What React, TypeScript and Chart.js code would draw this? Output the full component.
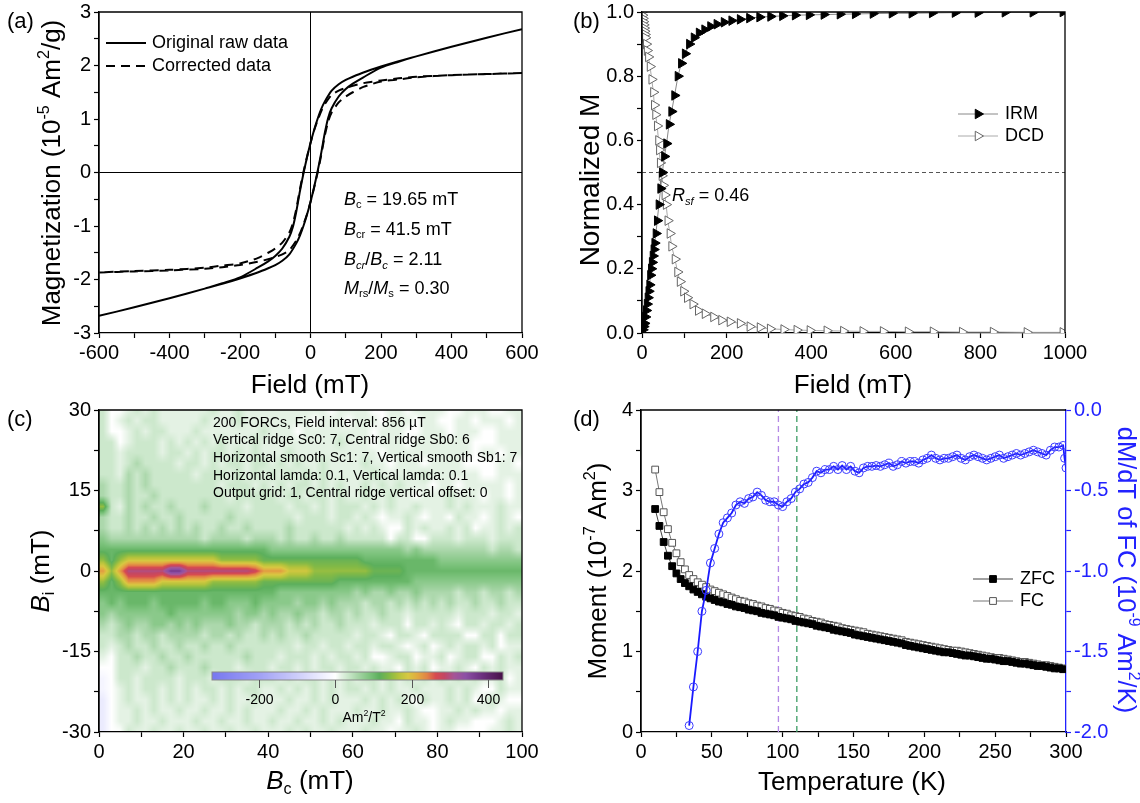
import React, { useEffect, useRef } from 'react';
import { Chart, registerables } from 'chart.js';
Chart.register(...registerables);

const FONT = "Arial, 'Liberation Sans', Helvetica, sans-serif";
Chart.defaults.font.family = FONT;

// ---------------- (a) hysteresis loop ----------------
const RAW_UP_H = [600, 500, 400, 300, 250, 200, 150, 120, 100, 80, 60, 40, 30, 20, 10, 0, -10, -20, -30, -40, -50, -60, -80, -100, -120, -150, -200, -250, -300, -400, -500, -600];
const RAW_UP_M = [2.68, 2.52, 2.35, 2.17, 2.08, 1.98, 1.87, 1.79, 1.73, 1.65, 1.53, 1.32, 1.18, 1.0, 0.79, 0.55, 0.28, -0.02, -0.35, -0.72, -1.02, -1.2, -1.42, -1.56, -1.66, -1.78, -1.96, -2.07, -2.17, -2.35, -2.52, -2.68];
const RAW_LO_H = [-600, -500, -400, -300, -250, -200, -150, -120, -100, -80, -60, -40, -30, -20, -10, 0, 10, 20, 30, 40, 50, 60, 80, 100, 120, 150, 200, 250, 300, 400, 500, 600];
const RAW_LO_M = [-2.68, -2.52, -2.35, -2.17, -2.08, -1.98, -1.87, -1.79, -1.73, -1.65, -1.53, -1.32, -1.18, -1.0, -0.79, -0.55, -0.28, 0.02, 0.35, 0.72, 1.02, 1.2, 1.42, 1.56, 1.66, 1.78, 1.96, 2.07, 2.17, 2.35, 2.52, 2.68];
const COR_UP_M = [1.86, 1.84, 1.82, 1.79, 1.76, 1.72, 1.67, 1.62, 1.58, 1.53, 1.45, 1.27, 1.14, 0.97, 0.78, 0.55, 0.29, 0.01, -0.31, -0.67, -0.95, -1.12, -1.31, -1.42, -1.5, -1.6, -1.7, -1.74, -1.78, -1.82, -1.84, -1.87];
const COR_LO_M = [-1.87, -1.85, -1.83, -1.8, -1.77, -1.73, -1.67, -1.62, -1.58, -1.53, -1.45, -1.27, -1.14, -0.97, -0.78, -0.55, -0.29, -0.01, 0.31, 0.67, 0.95, 1.12, 1.31, 1.42, 1.5, 1.6, 1.7, 1.74, 1.78, 1.82, 1.84, 1.86];

// ---------------- (b) IRM / DCD ----------------
const IRM_H = [2, 4, 6, 8, 10, 12, 14, 16, 18, 20, 22, 24, 26, 28, 30, 33, 36, 40, 44, 48, 53, 58, 64, 70, 77, 85, 93, 102, 112, 123, 135, 148, 162, 177, 194, 212, 232, 254, 278, 304, 332, 362, 395, 430, 468, 504, 546, 591, 638, 686, 740, 794, 858, 924, 995];
const IRM_M = [0.01, 0.02, 0.03, 0.05, 0.07, 0.09, 0.11, 0.13, 0.15, 0.18, 0.2, 0.22, 0.24, 0.26, 0.28, 0.31, 0.35, 0.4, 0.45, 0.5, 0.55, 0.59, 0.65, 0.69, 0.74, 0.8, 0.84, 0.87, 0.9, 0.92, 0.935, 0.945, 0.955, 0.962, 0.968, 0.973, 0.977, 0.981, 0.984, 0.986, 0.988, 0.99, 0.991, 0.992, 0.993, 0.994, 0.995, 0.996, 0.996, 0.997, 0.998, 0.998, 0.999, 0.999, 1.0];
const DCD_H = [0, 1, 2, 3, 4, 5, 6, 7, 8, 10, 12, 15, 19, 23, 27, 29, 32, 36, 39, 41, 43, 47, 50, 54, 57, 61, 66, 70, 78, 84, 90, 98, 107, 120, 133, 149, 169, 188, 208, 232, 255, 279, 303, 335, 366, 397, 437, 476, 522, 570, 629, 688, 757, 830, 910, 995];
const DCD_M = [1.0, 0.99, 0.98, 0.97, 0.96, 0.95, 0.94, 0.93, 0.92, 0.9, 0.88, 0.86, 0.83, 0.79, 0.75, 0.71, 0.68, 0.645, 0.6, 0.57, 0.53, 0.49, 0.46, 0.43, 0.4, 0.35, 0.31, 0.27, 0.23, 0.19, 0.16, 0.13, 0.11, 0.09, 0.07, 0.06, 0.05, 0.04, 0.035, 0.03, 0.02, 0.017, 0.013, 0.011, 0.009, 0.008, 0.007, 0.006, 0.005, 0.005, 0.004, 0.004, 0.003, 0.003, 0.002, 0.002];
const HALF_LEVEL = 0.5;

// ---------------- (c) FORC diagram ----------------
const FORC_BC_MIN = 0;
const FORC_BC_STEP = 2;
const FORC_BI_TOP = 30;
const FORC_BI_STEP = 2;
const FORC_COLS = 50;
// one character per 2 mT x 2 mT cell (cell centres), rows from Bi = 30 (top) down to Bi = -30
const FORC_LEVELS: Record<string, number> = { ' ': 0, c: -20, b: -40, '.': 15, ',': 32, ':': 55, g: 80, G: 105, h: 125, y: 150, Y: 185, o: 225, r: 275, R: 300, p: 370 };
const FORC_ROWS = [
  ",  .,.,...|...,..,...|....... ..|..  .. ...|.  ...  ..",
  ", .,.,,...|..,...,...|..... ... |... ... ..|  .. ... .",
  ",  .,.,,..|.,.......,|... ......|.. ...  ..|. ...  ...",
  ",, .,,,.,.|,.,.,...,.|........,.|.. ... ...|....   ...",
  ",,.,,,,.,,|.,.,,.,.,.|..,.......|... ......|.... .. ..",
  ",,.,:,,,,.|,,.,.,,.,,|.,.,..,...|.,.. ... .|...    .. ",
  ",,.:,:,,,,|,.,,,.,.,.|,.,.,.,...|..,.....,.|.....  ...",
  ":,,:,:,,,,|,,,,.,,,.,|.,.,,.,.,.|.,.,.,... |.. ..... .",
  ":,,:,,:,,,|,,,,,.,,,,|,.,,.,,.,.|.,..,.. ..|.,... .. .",
  "y,.:,:,,:,|,,:,,,,.,,|,,.,,.,.,,|,.,.,..,..|.,.,...,..",
  ":,,:,,:,,:|,,,,,:,,,,|,,,.,,,.,,|.,. ..,. .|. ,.. .,. ",
  ":,,:,:,:,:|,:,,:,,:,,|,,:,,,,,,.|,.,.  ,.,.|.,., ..,.,",
  "g:::::::::|::,::::,::|:,:,,:,,:,|,,,, ,,  ,|,,.,,,.,,,",
  "GGGGGGGGGG|GGGGGGGGGG|gggggggggg|gggggg:g::|::::::,::,",
  "yGyYYYYYYY|YYYYyyyyyh|hhhhhhhhhh|hGGGGGGGGG|gggggggggg",
  "oyoRRRRRpp|RRRRRRRRro|ooYYYyyyyy|yyhhhhGGGG|GGGGGGGGGG",
  "yGyooooYYY|YYYyyyyyyh|hhhhhhhhGG|GGGGGGGggg|gggggggggg",
  "GGGGGGGGGG|GGGGGGGGGG|Gggggggggg|:g::g::g::|::,::,::,:",
  "gGgGGGgGGG|GGgGGgggGg|ggg:gg:g::|:,::,:,:,:|,:,,:,,:,,",
  "g:ggggggGg|gggggg:gg:|g::g::,::,|:,,:,,.,,,|,,.,,,.,,.",
  ":,:g::gg:g|:g:::g::,:|::,:,:,,:,|,,.,,, ,,.|,. ,,.,,.,",
  ",,::,::,::|::,::,:,,:|,:,,:,,,,,|.,,. ,,. ,|,,,  ,, ,,",
  ",.,:,,:,,:|,,:,,:,,,,|,,,.,,.,,.|,,.,,. ., |.,.,,., ..",
  ". ,,:,,:,,|:,,,,,,:,,|,.,,,.,.,,|.,  .,, ..|, .,,  ,.,",
  "  ,,,.,,:,|,,:,,,.,,,|.,,.,.,,.,|,.,.. ,., |..,. ,.,..",
  "c ,,.,,,,.|,,,.,,,.,,|,.,.,,.,.,|.,,.,.,.,.|,.,.,.., .",
  "c .,.,,.,.|,.,,.,.,,.|.,.,.,.,.,|,.,.,..,..|.,.,.  ,..",
  "b .,..,.,.|,..,.,..,.|..,..,.,..|.,.,.,. ,.|.,., .,.  ",
  "b ..,.,..,|..,..,.,..|.,..,.,...|,..,..,.  |..,.,.. ..",
  "b ..,..,..|.,..,..,..|,..,..,.,.|..,.. ,.. |.,..   .,.",
  "b  ,..,..,|..,..,..,.|..,.,..,..|.,.. ..,. |..    ..,.",
];
const FORC_INFO = [
  '200 FORCs, Field interval: 856 \u00b5T',
  'Vertical ridge Sc0: 7, Central ridge Sb0: 6',
  'Horizontal smooth Sc1: 7, Vertical smooth Sb1: 7',
  'Horizontal lamda: 0.1, Vertical lamda: 0.1',
  'Output grid: 1, Central ridge vertical offset: 0',
];
const CB_MIN = -322;
const CB_MAX = 438;
const CB_TICKS = [-200, 0, 200, 400];
const CMAP_V = [-320, -200, -100, -20, 0, 15, 35, 60, 90, 115, 140, 165, 190, 215, 240, 262, 285, 310, 340, 380, 440];
const CMAP_C = [[120, 120, 240], [160, 160, 245], [205, 205, 250], [245, 245, 255], [255, 255, 255], [228, 242, 228], [200, 230, 200], [165, 212, 165], [125, 195, 125], [92, 175, 92], [130, 185, 70], [180, 195, 60], [215, 200, 65], [225, 170, 65], [225, 130, 70], [215, 75, 80], [195, 70, 100], [165, 85, 150], [140, 80, 165], [110, 50, 130], [70, 15, 70]];

// ---------------- (d) ZFC / FC ----------------
const TEMP = [10, 13, 16, 19, 22, 25, 28, 31, 34, 37, 40, 43, 46, 49, 52, 55, 58, 61, 64, 67, 70, 73, 76, 79, 82, 85, 88, 91, 94, 97, 100, 103, 106, 109, 112, 115, 118, 121, 124, 127, 130, 133, 136, 139, 142, 145, 148, 151, 154, 157, 160, 163, 166, 169, 172, 175, 178, 181, 184, 187, 190, 193, 196, 199, 202, 205, 208, 211, 214, 217, 220, 223, 226, 229, 232, 235, 238, 241, 244, 247, 250, 253, 256, 259, 262, 265, 268, 271, 274, 277, 280, 283, 286, 289, 292, 295, 298];
const ZFC = [2.77, 2.56, 2.36, 2.19, 2.06, 1.97, 1.90, 1.85, 1.81, 1.77, 1.74, 1.71, 1.68, 1.66, 1.64, 1.62, 1.61, 1.59, 1.58, 1.56, 1.55, 1.54, 1.52, 1.51, 1.50, 1.48, 1.47, 1.46, 1.45, 1.43, 1.42, 1.41, 1.40, 1.38, 1.37, 1.36, 1.35, 1.34, 1.32, 1.31, 1.30, 1.29, 1.27, 1.26, 1.25, 1.24, 1.23, 1.21, 1.20, 1.19, 1.18, 1.17, 1.16, 1.15, 1.14, 1.13, 1.12, 1.11, 1.10, 1.08, 1.07, 1.06, 1.05, 1.04, 1.03, 1.02, 1.01, 1.00, 0.99, 0.99, 0.98, 0.97, 0.96, 0.95, 0.95, 0.94, 0.93, 0.92, 0.91, 0.91, 0.90, 0.89, 0.88, 0.88, 0.87, 0.86, 0.85, 0.85, 0.84, 0.83, 0.82, 0.82, 0.81, 0.80, 0.79, 0.79, 0.78];
const FC = [3.26, 2.98, 2.73, 2.52, 2.35, 2.22, 2.11, 2.02, 1.95, 1.90, 1.86, 1.83, 1.80, 1.77, 1.75, 1.73, 1.71, 1.69, 1.67, 1.65, 1.63, 1.62, 1.60, 1.59, 1.57, 1.56, 1.54, 1.53, 1.51, 1.50, 1.48, 1.47, 1.45, 1.44, 1.43, 1.41, 1.40, 1.38, 1.37, 1.36, 1.34, 1.33, 1.32, 1.31, 1.29, 1.28, 1.27, 1.26, 1.25, 1.24, 1.22, 1.21, 1.20, 1.19, 1.18, 1.17, 1.16, 1.15, 1.14, 1.12, 1.11, 1.10, 1.09, 1.08, 1.07, 1.06, 1.05, 1.04, 1.03, 1.02, 1.01, 1.01, 1.00, 0.99, 0.98, 0.97, 0.96, 0.95, 0.94, 0.93, 0.92, 0.92, 0.91, 0.90, 0.89, 0.88, 0.87, 0.87, 0.86, 0.85, 0.84, 0.83, 0.83, 0.82, 0.81, 0.80, 0.79];
const DMDT_T = [34, 37, 40, 43, 46, 49, 52, 55, 58, 61, 64, 67, 70, 73, 76, 79, 82, 85, 88, 91, 94, 97, 100, 103, 106, 109, 112, 115, 118, 121, 124, 127, 130, 133, 136, 139, 142, 145, 148, 151, 154, 157, 160, 163, 166, 169, 172, 175, 178, 181, 184, 187, 190, 193, 196, 199, 202, 205, 208, 211, 214, 217, 220, 223, 226, 229, 232, 235, 238, 241, 244, 247, 250, 253, 256, 259, 262, 265, 268, 271, 274, 277, 280, 283, 286, 289, 292, 295, 298, 299, 300];
const DMDT = [-1.96, -1.72, -1.5, -1.25, -1.12, -0.95, -0.86, -0.77, -0.70, -0.67, -0.64, -0.59, -0.57, -0.58, -0.55, -0.54, -0.51, -0.53, -0.56, -0.57, -0.57, -0.59, -0.6, -0.57, -0.55, -0.51, -0.49, -0.46, -0.45, -0.42, -0.38, -0.39, -0.37, -0.37, -0.35, -0.37, -0.345, -0.37, -0.35, -0.38, -0.39, -0.36, -0.35, -0.35, -0.345, -0.35, -0.34, -0.33, -0.35, -0.34, -0.32, -0.33, -0.32, -0.32, -0.33, -0.31, -0.3, -0.28, -0.3, -0.31, -0.3, -0.3, -0.29, -0.28, -0.3, -0.31, -0.29, -0.28, -0.29, -0.3, -0.31, -0.3, -0.29, -0.28, -0.3, -0.29, -0.28, -0.27, -0.28, -0.27, -0.26, -0.25, -0.26, -0.27, -0.28, -0.25, -0.23, -0.23, -0.22, -0.3, -0.36];
const VLINE_T = [97, 110];

// ---------------- helpers ----------------
const pts = (xs: number[], ys: number[]) => xs.map((x, i) => ({ x, y: ys[i] }));

type Seg = { t: string; i?: boolean; sub?: boolean; sup?: boolean };
type RText = { segs: Seg[]; x: number; y: number; size: number; color?: string; align?: string; rot?: number };

function drawRich(ctx: CanvasRenderingContext2D, r: RText) {
  ctx.save();
  ctx.translate(r.x, r.y);
  if (r.rot) ctx.rotate((r.rot * Math.PI) / 180);
  ctx.fillStyle = r.color || '#000';
  ctx.textBaseline = 'middle';
  ctx.textAlign = 'left';
  const small = Math.round(r.size * 0.62 * 10) / 10;
  const fonts = r.segs.map((s) => `${s.i ? 'italic ' : ''}${s.sub || s.sup ? small : r.size}px ${FONT}`);
  const widths = r.segs.map((s, k) => {
    ctx.font = fonts[k];
    return ctx.measureText(s.t).width;
  });
  const total = widths.reduce((p, q) => p + q, 0);
  let x = r.align === 'center' ? -total / 2 : r.align === 'right' ? -total : 0;
  r.segs.forEach((s, k) => {
    ctx.font = fonts[k];
    const dy = s.sub ? r.size * 0.3 : s.sup ? -r.size * 0.32 : 0;
    ctx.fillText(s.t, x, dy);
    x += widths[k];
  });
  ctx.restore();
}

function cmapRGB(v: number): number[] {
  if (v <= CMAP_V[0]) return CMAP_C[0];
  for (let k = 1; k < CMAP_V.length; k++) {
    if (v <= CMAP_V[k]) {
      const f = (v - CMAP_V[k - 1]) / (CMAP_V[k] - CMAP_V[k - 1]);
      const a = CMAP_C[k - 1], b = CMAP_C[k];
      return [0, 1, 2].map((j) => Math.round(a[j] + (b[j] - a[j]) * f));
    }
  }
  return CMAP_C[CMAP_C.length - 1];
}

function forcGrid(): number[][] {
  return FORC_ROWS.map((r) => {
    const s = r.replace(/\|/g, '').padEnd(FORC_COLS, '.').slice(0, FORC_COLS);
    return Array.from(s).map((ch) => (FORC_LEVELS[ch] === undefined ? 15 : FORC_LEVELS[ch]));
  });
}

// FORC cells are rendered as a smooth (bilinear) surface, positioned with the chart's scales
function drawHeatmap(chart: any) {
  const ctx = chart.ctx, a = chart.chartArea, xs = chart.scales.x, ys = chart.scales.y;
  const grid = forcGrid();
  const nR = grid.length;
  const W = Math.ceil(a.right - a.left), H = Math.ceil(a.bottom - a.top);
  const off = document.createElement('canvas');
  off.width = W; off.height = H;
  const g = off.getContext('2d')!;
  const img = g.createImageData(W, H);
  const clamp = (v: number, lo: number, hi: number) => Math.max(lo, Math.min(hi, v));
  for (let py = 0; py < H; py++) {
    const bi = ys.getValueForPixel(a.top + py + 0.5);
    const fr = clamp((FORC_BI_TOP - bi) / FORC_BI_STEP, 0, nR - 1);
    const r0 = Math.floor(fr), r1 = Math.min(r0 + 1, nR - 1), tr = fr - r0;
    for (let px = 0; px < W; px++) {
      const bc = xs.getValueForPixel(a.left + px + 0.5);
      const fc = clamp((bc - FORC_BC_MIN) / FORC_BC_STEP - 0.5, 0, FORC_COLS - 1);
      const c0 = Math.floor(fc), c1 = Math.min(c0 + 1, FORC_COLS - 1), tc = fc - c0;
      const top = grid[r0][c0] * (1 - tc) + grid[r0][c1] * tc;
      const bot = grid[r1][c0] * (1 - tc) + grid[r1][c1] * tc;
      const col = cmapRGB(top * (1 - tr) + bot * tr);
      const o = (py * W + px) * 4;
      img.data[o] = col[0]; img.data[o + 1] = col[1]; img.data[o + 2] = col[2]; img.data[o + 3] = 255;
    }
  }
  g.putImageData(img, 0, 0);
  ctx.save();
  ctx.beginPath();
  ctx.rect(a.left, a.top, a.right - a.left, a.bottom - a.top);
  ctx.clip();
  ctx.drawImage(off, a.left, a.top);
  ctx.restore();
}

function drawColorbar(ctx: CanvasRenderingContext2D, cb: any) {
  const { x0, x1, y0, y1 } = cb;
  ctx.save();
  for (let px = Math.floor(x0); px < x1; px++) {
    const v = CB_MIN + ((px + 0.5 - x0) / (x1 - x0)) * (CB_MAX - CB_MIN);
    const c = cmapRGB(v);
    ctx.fillStyle = `rgb(${c[0]},${c[1]},${c[2]})`;
    ctx.fillRect(px, y0, 1, y1 - y0);
  }
  ctx.strokeStyle = '#8a8a8a';
  ctx.lineWidth = 1;
  ctx.strokeRect(x0, y0, x1 - x0, y1 - y0);
  ctx.strokeStyle = '#555';
  CB_TICKS.forEach((t) => {
    const px = Math.round(x0 + ((t - CB_MIN) / (CB_MAX - CB_MIN)) * (x1 - x0)) + 0.5;
    ctx.beginPath(); ctx.moveTo(px, y1); ctx.lineTo(px, y1 + cb.tickLen); ctx.stroke();
    drawRich(ctx, { segs: [{ t: String(t) }], x: px, y: cb.labelY, size: cb.size, align: 'center' });
  });
  ctx.restore();
  drawRich(ctx, { segs: [{ t: 'Am' }, { t: '2', sup: true }, { t: '/T' }, { t: '2', sup: true }], x: cb.unitX, y: cb.unitY, size: cb.size, align: 'center' });
}

function drawMarker(ctx: CanvasRenderingContext2D, kind: string, x: number, y: number, r: number, fill: string, stroke: string) {
  ctx.save();
  ctx.fillStyle = fill; ctx.strokeStyle = stroke; ctx.lineWidth = 1;
  ctx.beginPath();
  if (kind === 'triR') {
    ctx.moveTo(x + r, y);
    ctx.lineTo(x - 0.5 * r, y + 0.866 * r);
    ctx.lineTo(x - 0.5 * r, y - 0.866 * r);
    ctx.closePath();
  } else {
    const s = r * Math.SQRT1_2;
    ctx.rect(x - s, y - s, 2 * s, 2 * s);
  }
  ctx.fill(); ctx.stroke();
  ctx.restore();
}

function drawLegend(ctx: CanvasRenderingContext2D, L: any) {
  L.items.forEach((it: any) => {
    ctx.save();
    ctx.strokeStyle = it.line; ctx.lineWidth = it.lw;
    ctx.setLineDash(it.dash || []);
    ctx.beginPath(); ctx.moveTo(L.x0, it.y); ctx.lineTo(L.x1, it.y); ctx.stroke();
    ctx.restore();
    if (it.marker) drawMarker(ctx, it.marker, (L.x0 + L.x1) / 2, it.y, it.r, it.fill, it.stroke);
    drawRich(ctx, { segs: [{ t: it.label }], x: L.tx, y: it.y, size: L.size });
  });
}

function makeDecor(cfg: any) {
  return {
    id: 'decor',
    beforeDraw(chart: any) {
      if (cfg.heatmap) drawHeatmap(chart);
    },
    afterDraw(chart: any) {
      const ctx = chart.ctx, a = chart.chartArea;
      ctx.save();
      ctx.strokeStyle = '#000'; ctx.lineWidth = 1.3;
      ctx.beginPath();
      ctx.moveTo(a.left, a.bottom); ctx.lineTo(a.left, a.top); ctx.lineTo(a.right, a.top);
      if (cfg.frameRight !== false) ctx.lineTo(a.right, a.bottom);
      ctx.stroke();
      ctx.restore();
      if (cfg.colorbar) drawColorbar(ctx, cfg.colorbar);
      if (cfg.legend) drawLegend(ctx, cfg.legend);
      (cfg.texts || []).forEach((t: RText) => drawRich(ctx, t));
    },
  };
}

function axis(o: any) {
  const color = o.color || '#000';
  const horizontal = o.position === 'bottom';
  return {
    type: 'linear', position: o.position, min: o.min, max: o.max,
    afterFit: (s: any) => {
      if (horizontal) s.height = o.fit; else s.width = o.fit;
      s.paddingLeft = 0; s.paddingRight = 0; s.paddingTop = 0; s.paddingBottom = 0;
    },
    ticks: {
      stepSize: o.step, autoSkip: false, maxRotation: 0, minRotation: 0, color, padding: o.pad === undefined ? 3 : o.pad,
      font: { family: FONT, size: 20 },
      callback: (v: number) => {
        const q = v / o.major;
        if (Math.abs(q - Math.round(q)) > 1e-6) return '';
        return o.digits ? Number(v).toFixed(o.digits) : String(Math.round(v * 1000) / 1000);
      },
    },
    grid: {
      drawOnChartArea: !!o.zero,
      color: (c: any) => (o.zero && c.tick && Math.abs(c.tick.value) < 1e-9 ? '#000' : 'rgba(0,0,0,0)'),
      lineWidth: 1,
      tickColor: color, tickLength: 5, tickWidth: 1.2,
    },
    border: { display: true, color, width: 1.3 },
    title: { display: false },
  };
}

const baseOptions = (padTop: number, padRight: number) => ({
  responsive: false, animation: false, devicePixelRatio: 1, events: [],
  layout: { padding: { top: padTop, right: padRight, left: 0, bottom: 0 } },
  plugins: { legend: { display: false }, tooltip: { enabled: false }, title: { display: false } },
});

const P = (t: string): Seg[] => [{ t }];
const TITLE = 26;

// ---------------- chart configs ----------------
function makeA(): any {
  return {
    type: 'scatter',
    data: {
      datasets: [
        { label: 'Original raw data', data: [...pts(RAW_UP_H, RAW_UP_M), ...pts(RAW_LO_H, RAW_LO_M)], showLine: true, borderColor: '#000', borderWidth: 2, pointRadius: 0, tension: 0.25 },
        { label: 'Corrected data', data: [...pts(RAW_UP_H, COR_UP_M), ...pts(RAW_LO_H, COR_LO_M)], showLine: true, borderColor: '#000', borderWidth: 2, borderDash: [9, 6], pointRadius: 0, tension: 0.25 },
      ],
    },
    options: {
      ...baseOptions(12, 48),
      scales: {
        x: axis({ position: 'bottom', min: -600, max: 600, step: 100, major: 200, fit: 67, zero: true }),
        y: axis({ position: 'left', min: -3, max: 3, step: 0.5, major: 1, fit: 99, zero: true }),
      },
    },
    plugins: [makeDecor({
      legend: { x0: 106, x1: 146, tx: 152, size: 18, items: [
        { y: 43, label: 'Original raw data', line: '#000', lw: 2 },
        { y: 66, label: 'Corrected data', line: '#000', lw: 2, dash: [9, 6] },
      ] },
      texts: [
        { segs: P('(a)'), x: 7, y: 22, size: 22 },
        { segs: [{ t: 'Magnetization (10' }, { t: '-5', sup: true }, { t: ' Am' }, { t: '2', sup: true }, { t: '/g)' }], x: 53, y: 173, size: TITLE, align: 'center', rot: -90 },
        { segs: P('Field (mT)'), x: 310, y: 386, size: TITLE, align: 'center' },
        { segs: [{ t: 'B', i: true }, { t: 'c', sub: true }, { t: ' = 19.65 mT' }], x: 344, y: 200, size: 18 },
        { segs: [{ t: 'B', i: true }, { t: 'cr', sub: true }, { t: ' = 41.5 mT' }], x: 344, y: 230, size: 18 },
        { segs: [{ t: 'B', i: true }, { t: 'cr', sub: true, i: true }, { t: '/' }, { t: 'B', i: true }, { t: 'c', sub: true, i: true }, { t: ' = 2.11' }], x: 344, y: 260, size: 18 },
        { segs: [{ t: 'M', i: true }, { t: 'rs', sub: true }, { t: '/' }, { t: 'M', i: true }, { t: 's', sub: true }, { t: ' = 0.30' }], x: 344, y: 289, size: 18 },
      ],
    })],
  };
}

function makeB(): any {
  return {
    type: 'scatter',
    data: {
      datasets: [
        { label: 'IRM', data: pts(IRM_H, IRM_M), showLine: true, borderColor: '#888', borderWidth: 1, pointStyle: 'triangle', pointRotation: 90, pointRadius: 5.5, pointBackgroundColor: '#000', pointBorderColor: '#000', pointBorderWidth: 1 },
        { label: 'DCD', data: pts(DCD_H, DCD_M), showLine: true, borderColor: '#aaa', borderWidth: 1, pointStyle: 'triangle', pointRotation: 90, pointRadius: 5.5, pointBackgroundColor: '#fff', pointBorderColor: '#666', pointBorderWidth: 1 },
        { label: 'half', data: [{ x: 0, y: HALF_LEVEL }, { x: 1000, y: HALF_LEVEL }], showLine: true, borderColor: '#555', borderWidth: 1, borderDash: [4, 3], pointRadius: 0 },
      ],
    },
    options: {
      ...baseOptions(12, 75),
      scales: {
        x: axis({ position: 'bottom', min: 0, max: 1000, step: 100, major: 200, fit: 67 }),
        y: axis({ position: 'left', min: 0, max: 1, step: 0.1, major: 0.2, digits: 1, fit: 72 }),
      },
    },
    plugins: [makeDecor({
      legend: { x0: 388, x1: 428, tx: 435, size: 18, items: [
        { y: 114, label: 'IRM', line: '#888', lw: 1, marker: 'triR', r: 5.5, fill: '#000', stroke: '#000' },
        { y: 136, label: 'DCD', line: '#aaa', lw: 1, marker: 'triR', r: 5.5, fill: '#fff', stroke: '#666' },
      ] },
      texts: [
        { segs: P('(b)'), x: 3, y: 22, size: 22 },
        { segs: P('Normalized M'), x: 21, y: 180, size: 28, align: 'center', rot: -90 },
        { segs: P('Field (mT)'), x: 283, y: 386, size: TITLE, align: 'center' },
        { segs: [{ t: 'R', i: true }, { t: 'sf', sub: true, i: true }, { t: ' = 0.46' }], x: 102, y: 196, size: 18 },
      ],
    })],
  };
}

function makeC(): any {
  return {
    type: 'scatter',
    data: { datasets: [] },
    options: {
      ...baseOptions(10, 48),
      scales: {
        x: axis({ position: 'bottom', min: 0, max: 100, step: 10, major: 20, fit: 71 }),
        y: axis({ position: 'left', min: -30, max: 30, step: 7.5, major: 15, fit: 99 }),
      },
    },
    plugins: [makeDecor({
      heatmap: true,
      colorbar: { x0: 212, x1: 503, y0: 272, y1: 280, tickLen: 8, labelY: 300, size: 14, unitX: 364, unitY: 318 },
      texts: [
        { segs: P('(c)'), x: 7, y: 20, size: 22 },
        { segs: [{ t: 'B', i: true }, { t: 'i', sub: true }, { t: ' (mT)' }], x: 42, y: 171, size: TITLE, align: 'center', rot: -90 },
        { segs: [{ t: 'B', i: true }, { t: 'c', sub: true }, { t: ' (mT)' }], x: 310, y: 382, size: TITLE, align: 'center' },
        ...FORC_INFO.map((t, k) => ({ segs: P(t), x: 213, y: 23 + k * 17.6, size: 14 })),
      ],
    })],
  };
}

function makeD(): any {
  const vColors = ['#b58ae6', '#3c9c64'];
  return {
    type: 'scatter',
    data: {
      datasets: [
        { label: 'dM/dT of FC', yAxisID: 'y2', data: pts(DMDT_T, DMDT), showLine: true, borderColor: '#1a1aff', borderWidth: 1.8, pointStyle: 'circle', pointRadius: 4, pointBackgroundColor: 'rgba(255,255,255,0)', pointBorderColor: '#3a3aff', pointBorderWidth: 1 },
        { label: 'ZFC', yAxisID: 'y', data: pts(TEMP, ZFC), showLine: true, borderColor: '#444', borderWidth: 1, pointStyle: 'rect', pointRadius: 4.8, pointBackgroundColor: '#000', pointBorderColor: '#000', pointBorderWidth: 1 },
        { label: 'FC', yAxisID: 'y', data: pts(TEMP, FC), showLine: true, borderColor: '#777', borderWidth: 1, pointStyle: 'rect', pointRadius: 4.8, pointBackgroundColor: '#fff', pointBorderColor: '#555', pointBorderWidth: 1 },
        ...VLINE_T.map((t, k) => ({ label: 'v' + k, yAxisID: 'y', data: [{ x: t, y: 0 }, { x: t, y: 4 }], showLine: true, borderColor: vColors[k], borderWidth: 1.3, borderDash: [6, 4], pointRadius: 0 })),
      ],
    },
    options: {
      ...baseOptions(10, 0),
      scales: {
        x: axis({ position: 'bottom', min: 0, max: 300, step: 25, major: 50, fit: 71 }),
        y: axis({ position: 'left', min: 0, max: 4, step: 0.5, major: 1, fit: 71 }),
        y2: axis({ position: 'right', min: -2, max: 0, step: 0.25, major: 0.5, digits: 1, fit: 74, color: '#2222ff' }),
      },
    },
    plugins: [makeDecor({
      frameRight: false,
      legend: { x0: 403, x1: 443, tx: 450, size: 18, items: [
        { y: 179, label: 'ZFC', line: '#444', lw: 1, marker: 'sq', r: 4.8, fill: '#000', stroke: '#000' },
        { y: 201, label: 'FC', line: '#777', lw: 1, marker: 'sq', r: 4.8, fill: '#fff', stroke: '#555' },
      ] },
      texts: [
        { segs: P('(d)'), x: 3, y: 20, size: 22 },
        { segs: [{ t: 'Moment (10' }, { t: '-7', sup: true }, { t: ' Am' }, { t: '2', sup: true }, { t: ')' }], x: 29, y: 171, size: TITLE, align: 'center', rot: -90 },
        { segs: [{ t: 'dM/dT of FC (10' }, { t: '-9', sup: true }, { t: ' Am' }, { t: '2', sup: true }, { t: '/K)' }], x: 555, y: 170, size: 25.5, align: 'center', rot: 90, color: '#2222ff' },
        { segs: P('Temperature (K)'), x: 282, y: 383, size: TITLE, align: 'center' },
      ],
    })],
  };
}

function Panel(props: { left: number; top: number; width: number; height: number; make: () => any }) {
  const ref = useRef<HTMLCanvasElement>(null);
  useEffect(() => {
    const chart = new Chart(ref.current as HTMLCanvasElement, props.make());
    return () => chart.destroy();
  }, []);
  return (
    <canvas
      ref={ref}
      width={props.width}
      height={props.height}
      style={{ position: 'absolute', left: props.left, top: props.top, width: props.width, height: props.height }}
    />
  );
}

export default function App() {
  return (
    <div style={{ position: 'absolute', left: 0, top: 0, width: 1140, height: 803, background: '#fff', overflow: 'hidden' }}>
      <Panel left={0} top={0} width={570} height={400} make={makeA} />
      <Panel left={570} top={0} width={570} height={400} make={makeB} />
      <Panel left={0} top={400} width={570} height={403} make={makeC} />
      <Panel left={570} top={400} width={570} height={403} make={makeD} />
    </div>
  );
}
